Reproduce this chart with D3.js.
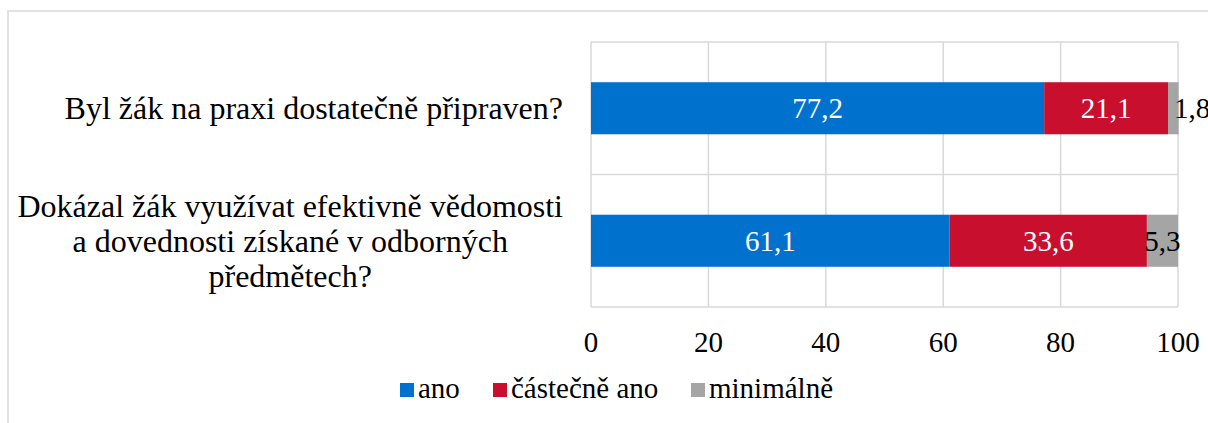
<!DOCTYPE html>
<html>
<head>
<meta charset="utf-8">
<script src="https://cdn.jsdelivr.net/npm/d3@7"></script>
<style>
  body { margin: 0; background: #fff; }
</style>
</head>
<body>
<div id="chart"></div>
<script>
var categories = ['Byl žák na praxi dostatečně připraven?',
                  'Dokázal žák využívat efektivně vědomosti a dovednosti získané v odborných předmětech?'];
var seriesNames = ['ano', 'částečně ano', 'minimálně'];
var ano = [77.2, 61.1];
var castecne = [21.1, 33.6];
var minimalne = [1.8, 5.3];
var ticks = [0, 20, 40, 60, 80, 100];

var colors = ['#0072ce', '#c8102e', '#a5a5a5'];
var labelColors = ['#fff', '#fff', '#000'];
var FONT = "'Liberation Serif'";

var W = 1208, H = 423;
var svg = d3.select('#chart').append('svg').attr('width', W).attr('height', H);

// outer chart frame (right/bottom edges fall outside the crop)
svg.append('rect')
    .attr('x', 8).attr('y', 11).attr('width', 1400).attr('height', 600)
    .attr('fill', 'none').attr('stroke', '#d9d9d9').attr('stroke-width', 1.5);

var x = d3.scaleLinear().domain([0, 100]).range([591, 1178]);
var y = d3.scaleBand().domain(categories).range([42, 307])
    .paddingInner(0.607).paddingOuter(0.3035);

// stack data
var rows = categories.map(function(c, i) {
    return {cat: c, ano: ano[i], castecne: castecne[i], minimalne: minimalne[i]};
});
var stack = d3.stack().keys(['ano', 'castecne', 'minimalne'])(rows);

// gridlines
var grid = svg.append('g');
grid.selectAll('line.v').data(ticks).enter().append('line')
    .attr('x1', function(d) { return x(d); }).attr('x2', function(d) { return x(d); })
    .attr('y1', 42).attr('y2', 307)
    .attr('stroke', '#d9d9d9').attr('stroke-width', 1.5);
var step = y.step();
var bounds = [42].concat(categories.map(function(c) { return y(c) + y.bandwidth() + step * y.paddingInner() / 2; }));
grid.selectAll('line.h').data(bounds).enter().append('line')
    .attr('x1', x(0)).attr('x2', x(100))
    .attr('y1', function(d) { return d; }).attr('y2', function(d) { return d; })
    .attr('stroke', '#d9d9d9').attr('stroke-width', 1.5);

// bars
var layers = svg.selectAll('g.layer').data(stack).enter().append('g')
    .attr('fill', function(d, i) { return colors[i]; });
layers.selectAll('rect').data(function(d) { return d; }).enter().append('rect')
    .attr('x', function(d) { return x(d[0]); })
    .attr('y', function(d) { return y(d.data.cat); })
    .attr('width', function(d) { return x(d[1]) - x(d[0]); })
    .attr('height', y.bandwidth());

// data labels; a tiny segment gets its label pushed right like Excel does
var fmt = function(v) { return d3.format('.1f')(v).replace('.', ','); };
stack.forEach(function(layer, li) {
    svg.append('g').selectAll('text').data(layer).enter().append('text')
        .attr('x', function(d) {
            var w = x(d[1]) - x(d[0]);
            return w < 18 ? x(d[0]) + 6 : (x(d[0]) + x(d[1])) / 2;
        })
        .attr('y', function(d) { return y(d.data.cat) + y.bandwidth() / 2; })
        .attr('dy', '0.35em')
        .attr('text-anchor', function(d) { return x(d[1]) - x(d[0]) < 18 ? 'start' : 'middle'; })
        .style('font-family', FONT)
        .style('font-size', '29px')
        .attr('fill', labelColors[li])
        .text(function(d) { return fmt(d[1] - d[0]); });
});

// x axis tick labels
svg.append('g').selectAll('text').data(ticks).enter().append('text')
    .attr('x', function(d) { return x(d); })
    .attr('y', 352)
    .attr('text-anchor', 'middle')
    .style('font-family', FONT)
    .style('font-size', '29px')
    .text(function(d) { return d; });

// category labels, wrapped, block right-aligned and lines centred
var catFont = 32, lineH = 35, maxW = 555, rightX = 563;
categories.forEach(function(c) {
    var g = svg.append('g');
    var probe = g.append('text').style('font-family', FONT).style('font-size', catFont + 'px');
    var words = c.split(' '), lines = [], cur = [];
    words.forEach(function(w) {
        cur.push(w);
        probe.text(cur.join(' '));
        if (probe.node().getComputedTextLength() > maxW && cur.length > 1) {
            cur.pop();
            lines.push(cur.join(' '));
            cur = [w];
        }
    });
    lines.push(cur.join(' '));
    var widths = lines.map(function(l) { probe.text(l); return probe.node().getComputedTextLength(); });
    probe.remove();
    var blockW = d3.max(widths);
    var cy = y(c) + y.bandwidth() / 2;
    var y0 = cy - (lines.length - 1) * lineH / 2;
    g.selectAll('text').data(lines).enter().append('text')
        .attr('x', rightX - blockW / 2)
        .attr('y', function(d, i) { return y0 + i * lineH; })
        .attr('dy', '0.35em')
        .attr('text-anchor', 'middle')
        .style('font-family', FONT)
        .style('font-size', catFont + 'px')
        .text(function(d) { return d; });
});

// legend
var legendX = [400, 493, 691];
var legend = svg.append('g').selectAll('g').data(seriesNames).enter().append('g')
    .attr('transform', function(d, i) { return 'translate(' + legendX[i] + ',383)'; });
legend.append('rect').attr('width', 14).attr('height', 14)
    .attr('fill', function(d, i) { return colors[i]; });
legend.append('text').attr('x', 18).attr('y', 15)
    .style('font-family', FONT)
    .style('font-size', '29px')
    .text(function(d) { return d; });
</script>
</body>
</html>
